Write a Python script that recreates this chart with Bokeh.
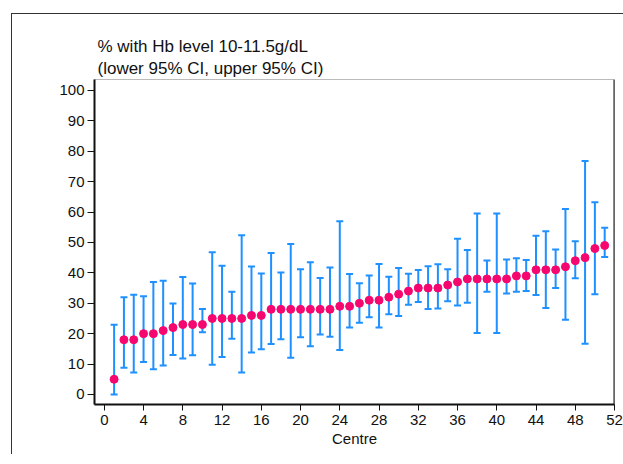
from bokeh.plotting import figure
from bokeh.models import ColumnDataSource, Whisker, TeeHead, Title, FixedTicker, Range1d, Span
from bokeh.embed import file_html
from bokeh.resources import INLINE

centre = list(range(1, 52))
pct = [5, 18, 18, 20, 20, 21, 22, 23, 23, 23, 25, 25, 25, 25, 26, 26, 28, 28, 28, 28,
       28, 28, 28, 29, 29, 30, 31, 31, 32, 33, 34, 35, 35, 35, 36, 37, 38, 38, 38, 38,
       38, 39, 39, 41, 41, 41, 42, 44, 45, 48, 49]
lower = [0.0, 8.8, 7.2, 10.7, 8.3, 9.5, 13.0, 11.8, 12.9, 20.5, 9.8, 12.3, 18.3, 7.2, 13.8,
         14.9, 16.6, 18.2, 12.1, 18.8, 15.9, 19.7, 19.0, 14.6, 22.0, 23.6, 25.4, 22.0, 26.4,
         25.8, 29.5, 30.4, 28.1, 28.3, 30.7, 29.3, 30.2, 20.2, 33.8, 20.2, 33.2, 33.8, 34.0,
         32.7, 28.4, 35.0, 24.6, 38.2, 16.7, 33.0, 45.2]
upper = [22.9, 32.0, 32.8, 32.3, 37.0, 37.4, 29.9, 38.6, 36.5, 28.1, 46.8, 42.3, 33.8, 52.4,
         42.1, 39.8, 46.5, 40.1, 49.5, 41.2, 43.5, 38.3, 41.8, 57.0, 39.6, 36.6, 39.1, 42.9,
         38.7, 41.6, 39.7, 40.9, 42.2, 42.8, 41.2, 51.2, 47.5, 59.5, 44.1, 59.5, 44.4, 44.8,
         44.2, 52.2, 53.7, 47.7, 61.0, 50.4, 76.8, 63.2, 54.8]
x_ticks = list(range(0, 53, 4))
y_ticks = list(range(0, 101, 10))
title_line1 = "% with Hb level 10-11.5g/dL"
title_line2 = "(lower 95% CI, upper 95% CI)"
x_label = "Centre"

FONT = "Liberation Sans"
BAR = "#1E90FF"
DOT = "#F5076F"

src = ColumnDataSource(dict(centre=centre, pct=pct, lower=lower, upper=upper))

p = figure(frame_width=520, frame_height=325,
           min_border_left=82, min_border_right=9, min_border_top=65, min_border_bottom=50,
           x_range=Range1d(-1, 52), y_range=Range1d(-3.3, 103.6),
           output_backend="svg", toolbar_location=None,
           background_fill_color="white", border_fill_color="white",
           styles={"margin-left": "11px", "margin-top": "13px",
                   "border-left": "1px solid #333333", "border-top": "1px solid #333333"})

p.outline_line_color = "#bbbbbb"
p.outline_line_width = 1
p.grid.visible = False

t2 = Title(text=title_line2, align="left", offset=3, text_font=FONT, text_font_size="17px",
           text_font_style="normal", text_color="#111111", standoff=3)
t1 = Title(text=title_line1, align="left", offset=3, text_font=FONT, text_font_size="17px",
           text_font_style="normal", text_color="#111111", standoff=0)
p.add_layout(t2, "above")
p.add_layout(t1, "above")

for ax in (p.xaxis[0], p.yaxis[0]):
    ax.axis_line_color = "#111111"
    ax.axis_line_width = 2
    ax.major_tick_line_color = "#111111"
    ax.major_tick_line_width = 1
    ax.major_tick_in = 0
    ax.minor_tick_line_color = None
    ax.major_label_text_font = FONT
    ax.major_label_text_font_size = "15px"
    ax.major_label_text_color = "#111111"

p.xaxis.ticker = FixedTicker(ticks=x_ticks)
p.yaxis.ticker = FixedTicker(ticks=y_ticks)
p.xaxis.major_tick_out = 6
p.xaxis.major_label_standoff = 4
p.yaxis.major_tick_out = 7
p.yaxis.major_label_standoff = 3
p.xaxis.axis_label = x_label
p.xaxis.axis_label_text_font = FONT
p.xaxis.axis_label_text_font_size = "15px"
p.xaxis.axis_label_text_font_style = "normal"
p.xaxis.axis_label_text_color = "#111111"
p.xaxis.axis_label_standoff = 2

p.add_layout(Span(location=52, dimension="height", line_color="#111111", line_width=2))

w = Whisker(source=src, base="centre", lower="lower", upper="upper",
            line_color=BAR, line_width=2,
            lower_head=TeeHead(size=7, line_color=BAR, line_width=2),
            upper_head=TeeHead(size=7, line_color=BAR, line_width=2))
p.add_layout(w)

p.scatter(x="centre", y="pct", source=src, size=8, fill_color=DOT, line_color=DOT)

open("out.html", "w").write(file_html(p, INLINE))
